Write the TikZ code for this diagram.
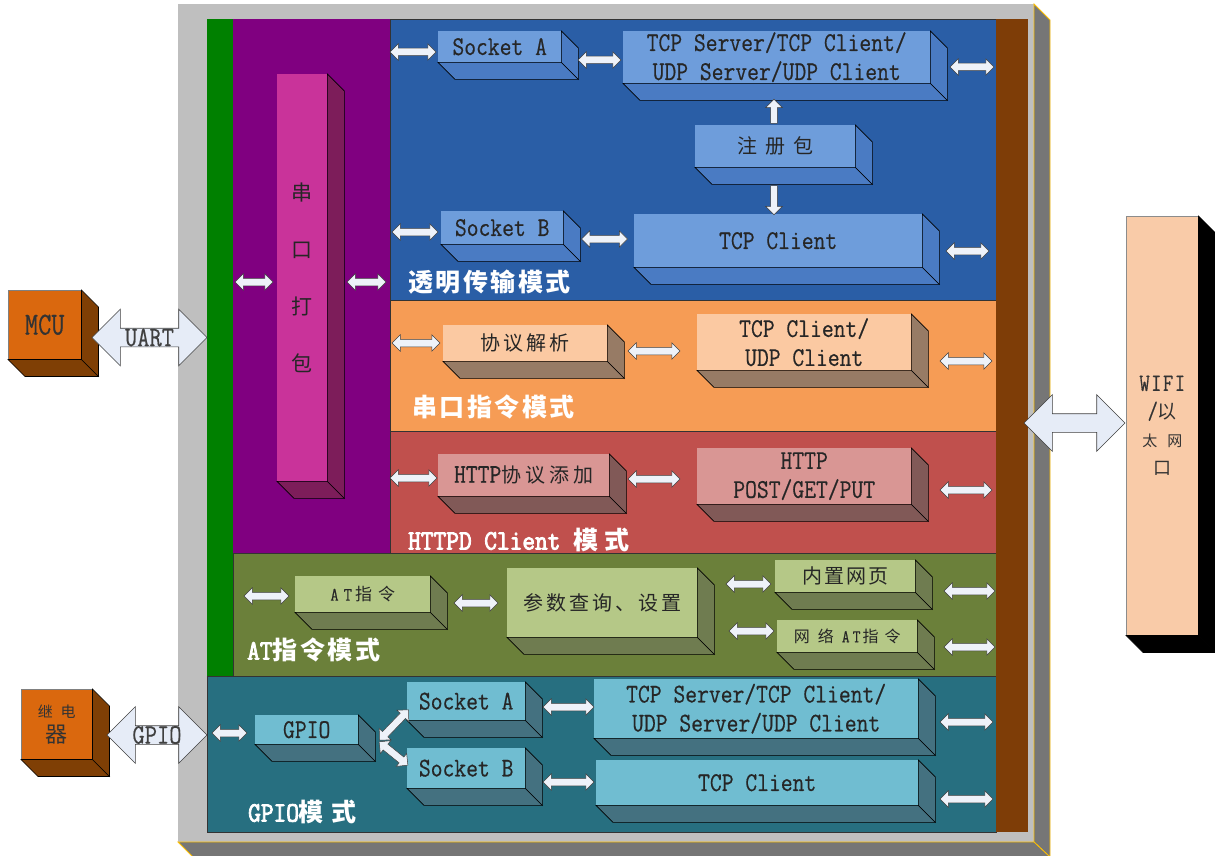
\documentclass[tikz,border=0pt]{standalone}
\usepackage{fontspec}
\setmainfont{Liberation Serif}
\newfontfamily\cjk{Noto Sans CJK SC}
\newfontfamily\cjkb{Noto Sans CJK SC}[LetterSpace=10]
\newfontfamily\mono{Latin Modern Mono}[FakeStretch=0.85,FakeBold=0.5]
\newfontfamily\monoc{Latin Modern Mono}[FakeStretch=0.8,FakeBold=0.5]
\newfontfamily\monob{Latin Modern Mono}[FakeStretch=0.88,FakeBold=3]
\usetikzlibrary{shapes.arrows}
\definecolor{framegray}{HTML}{BFBFBF}
\definecolor{framedark}{HTML}{767676}
\definecolor{gold}{HTML}{FFC000}
\definecolor{cgreen}{HTML}{008000}
\definecolor{cpurple}{HTML}{800080}
\definecolor{cblue}{HTML}{2A5EA6}
\definecolor{cbrown}{HTML}{7E3D07}
\definecolor{corange}{HTML}{F69C55}
\definecolor{cred}{HTML}{C0504D}
\definecolor{colive}{HTML}{6B803A}
\definecolor{cteal}{HTML}{276F80}
\definecolor{bluefront}{HTML}{6E9DDB}
\definecolor{blueside}{HTML}{4A7BC3}
\definecolor{pinkfront}{HTML}{C9339A}
\definecolor{pinkside}{HTML}{7D1D5A}
\definecolor{orgfront}{HTML}{FBC9A2}
\definecolor{orgside}{HTML}{977B65}
\definecolor{redfront}{HTML}{D99694}
\definecolor{redside}{HTML}{815957}
\definecolor{olvfront}{HTML}{B5C887}
\definecolor{olvside}{HTML}{6F7C50}
\definecolor{tealfront}{HTML}{70BDD1}
\definecolor{tealside}{HTML}{447180}
\definecolor{mcufront}{HTML}{DA680E}
\definecolor{mcuside}{HTML}{7F3F05}
\definecolor{wififront}{HTML}{F9CBA8}
\definecolor{wifiside}{HTML}{000000}
\definecolor{arrowfill}{HTML}{EEF2F9}
\definecolor{bigfill}{HTML}{E6ECF7}
\definecolor{arrowline}{HTML}{404040}
\newcommand\ZH[2][20]{{\cjk\fontsize{#1}{29}\selectfont #2}}
\def\dep{17}
\newcommand\cube[8][]{%
  \node[face, fill=#7front, #1, minimum width={(#5-#3)*1pt}, minimum height={(#6-#4)*1pt}] (#2) at (#3,#4) {#8};
  \filldraw[fill=#7side, side] (#2.south west) -- (#2.south east) -- ([shift={(\dep,\dep)}]#2.south east) -- ([shift={(\dep,\dep)}]#2.south west) -- cycle;
  \filldraw[fill=#7side, side] (#2.north east) -- ([shift={(\dep,\dep)}]#2.north east) -- ([shift={(\dep,\dep)}]#2.south east) -- (#2.south east) -- cycle;
}
\tikzset{
  face/.style={anchor=north west, inner sep=0pt, align=center, text=black!85, font=\mono\fontsize{27}{29}\selectfont},
  side/.style={draw=black, line width=0.6pt},
  region/.style={draw=black!80, line width=0.5pt},
  sarr/.style={double arrow, draw=arrowline, fill=arrowfill, line width=0.5pt, inner sep=0pt, inner ysep=3.5pt, double arrow head extend=4.5pt, minimum width=0pt, minimum height=#1},
  uarr/.style={single arrow, draw=arrowline, fill=arrowfill, line width=0.5pt, inner sep=0pt, inner ysep=3.2pt, single arrow head extend=5pt, minimum width=0pt, minimum height=#1},
  barr/.style={double arrow, draw=arrowline, fill=bigfill, line width=0.6pt, inner sep=0pt, inner ysep=9pt, double arrow head extend=19pt, minimum width=0pt, minimum height=#1},
  btext/.style={inner sep=0pt, text=black!75, font=\mono\fontsize{28}{28}\selectfont},
  lab/.style={anchor=west, inner sep=0pt, text=white, font=\cjkb\bfseries\fontsize{25}{30}\selectfont},
}
\begin{document}
\begin{tikzpicture}[x=1pt,y=-1pt]
\useasboundingbox (0,0) rectangle (1215,856);
% outer frame
\fill[framegray] (178,4) rectangle (1034,842);
\filldraw[fill=framedark, draw=gold, line width=0.8pt] (1034,4) -- (1050,20) -- (1050,857) -- (1034,842) -- cycle;
\filldraw[fill=framedark, draw=gold, line width=0.8pt] (178,842) -- (1034,842) -- (1050,857) -- (193,857) -- cycle;
% regions
\filldraw[region, fill=cblue] (390,19) rectangle (996,300);
\filldraw[region, fill=corange] (390,300) rectangle (996,431);
\filldraw[region, fill=cred] (390,431) rectangle (996,553);
\fill[cpurple] (233,19) rectangle (390,553);
\fill[cgreen] (207,19) rectangle (233,676);
\filldraw[region, fill=colive] (233,553) rectangle (996,676);
\filldraw[region, fill=cteal] (207,676) rectangle (996,832);
\fill[cbrown] (996,19) rectangle (1028,832);
% pink packing column
\cube[font=\cjk\fontsize{21}{57}\selectfont]{pk}{277}{74}{327}{481}{pink}{串\\口\\打\\包}
\node[sarr=38pt] (p1) at (254,282) {};
\node[sarr=39pt] (p2) at (366.5,282) {};
% transparent mode
\cube{sa}{438}{31}{561}{62}{blue}{Socket A}
\cube{tsa}{623}{31}{930}{83}{blue}{TCP Server/TCP Client/\\UDP Server/UDP Client}
\cube{reg}{695}{125}{855}{167}{blue}{\ZH{注\hspace{8pt}册\hspace{8pt}包}}
\cube{sb}{441}{211}{563}{244}{blue}{Socket B}
\cube{tcb}{634}{214}{922}{267}{blue}{TCP Client}
\node[sarr=46pt] (b1) at (413,52) {};
\node[sarr=43pt] (b2) at (599.5,60) {};
\node[sarr=44pt] (b3) at (972,67) {};
\node[sarr=46pt] (b4) at (415,232) {};
\node[sarr=46pt] (b5) at (604.5,239) {};
\node[sarr=43pt] (b6) at (967.5,251) {};
\node[uarr=24pt, rotate=90] (u1) at (774,113) {};
\node[uarr=29pt, rotate=-90] (u2) at (774,198.5) {};
\node[lab] (l1) at (408,282) {透明传输模式};
% serial command mode
\cube{xy}{443}{325}{607}{361}{org}{\ZH{协\hspace{3pt}议\hspace{3pt}解\hspace{3pt}析}}
\cube{tu}{697}{314}{911}{370}{org}{TCP Client/\\UDP Client}
\node[sarr=48pt] (o1) at (416,343) {};
\node[sarr=52pt] (o2) at (654,351) {};
\node[sarr=52pt] (o3) at (966,361) {};
\node[lab] (l2) at (412,407) {串口指令模式};
% HTTPD client mode
\cube{ha}{438}{454}{609}{496}{red}{HTTP\ZH{协\hspace{4pt}议\hspace{4pt}添\hspace{4pt}加}}
\cube{hp}{697}{448}{911}{504}{red}{HTTP\\POST/GET/PUT}
\node[sarr=47pt] (r1) at (413.5,478) {};
\node[sarr=52pt] (r2) at (654,479) {};
\node[sarr=52pt] (r3) at (966,490) {};
\node[lab] (l3) at (408,540) {{\monob\fontsize{28}{30}\selectfont HTTPD Client }模\hspace{6pt}式};
% AT mode
\cube[font=\mono\fontsize{19}{29}\selectfont]{at}{295}{576}{430}{612}{olv}{A\hspace{5pt}T\hspace{3pt}\ZH[17]{指\hspace{6pt}令}}
\cube{cs}{507}{568}{697}{637}{olv}{\ZH{参\hspace{3pt}数\hspace{3pt}查\hspace{3pt}询\hspace{3pt}、\hspace{3pt}设\hspace{3pt}置}}
\cube{nw}{775}{560}{915}{592}{olv}{\ZH{内\hspace{2pt}置\hspace{2pt}网\hspace{2pt}页}}
\cube[font=\mono\fontsize{18}{29}\selectfont]{na}{777}{620}{917}{652}{olv}{\ZH[16]{网\hspace{8pt}络}\hspace{8pt}A\hspace{3pt}T\hspace{2pt}\ZH[16]{指\hspace{6pt}令}}
\node[sarr=45pt] (t1) at (266.5,596) {};
\node[sarr=44pt] (t2) at (476,603) {};
\node[sarr=45pt] (t3) at (748.5,584) {};
\node[sarr=45pt] (t4) at (751.5,631) {};
\node[sarr=51pt] (t5) at (969.5,591) {};
\node[sarr=51pt] (t6) at (969.5,647) {};
\node[lab] (l4) at (247,650) {{\monob\fontsize{28}{30}\selectfont AT}指令模式};
% GPIO mode
\cube{gp}{255}{715}{358}{744}{teal}{GPIO}
\cube{gsa}{407}{682}{525}{720}{teal}{Socket A}
\cube{gsb}{407}{748}{525}{788}{teal}{Socket B}
\cube{gts}{594}{679}{918}{738}{teal}{TCP Server/TCP Client/\\UDP Server/UDP Client}
\cube{gtc}{596}{760}{918}{805}{teal}{TCP Client}
\node[sarr=35pt] (g1) at (229.5,733) {};
\node[sarr=42pt, rotate=46] (g2) at (394,725) {};
\node[sarr=37pt, rotate=-39] (g3) at (393.5,753.5) {};
\node[sarr=51pt] (g4) at (568.5,707) {};
\node[sarr=51pt] (g5) at (568.5,782) {};
\node[sarr=53pt] (g6) at (966.5,722) {};
\node[sarr=53pt] (g7) at (966.5,799) {};
\node[lab] (l5) at (248,812) {{\monob\fontsize{28}{30}\selectfont GPIO}模\hspace{8pt}式};
% left side
\cube[draw=black!50, line width=0.5pt, text=black!80, font=\monoc\fontsize{32}{29}\selectfont]{mcu}{8}{290}{81}{359}{mcu}{MCU}
\node[barr=115pt] (uart) at (149.5,337.5) {};
\node[btext] (uartt) at (uart.center) {UART};
\cube[draw=black!50, line width=0.5pt, text=black!80, font=\fontsize{15}{25}\selectfont]{relay}{21}{689}{92}{759}{mcu}{\ZH[15]{继\hspace{8pt}电}\\\ZH[22]{器}}
\node[barr=100pt] (gpa) at (157,735) {};
\node[btext] (gpat) at (gpa.center) {GPIO};
% right side
\node[barr=101pt] (wfa) at (1074.5,423) {};
\cube[draw=black!45, line width=0.5pt, text=black!80, font=\monoc\fontsize{25}{28}\selectfont]{wifi}{1126}{216}{1198}{635}{wifi}{W\hspace{1.5pt}I\hspace{1.5pt}F\hspace{1.5pt}I\\/\ZH[19]{以}\\\ZH[15]{太\hspace{10pt}网}\\\ZH[18]{口}}
\end{tikzpicture}
\end{document}
